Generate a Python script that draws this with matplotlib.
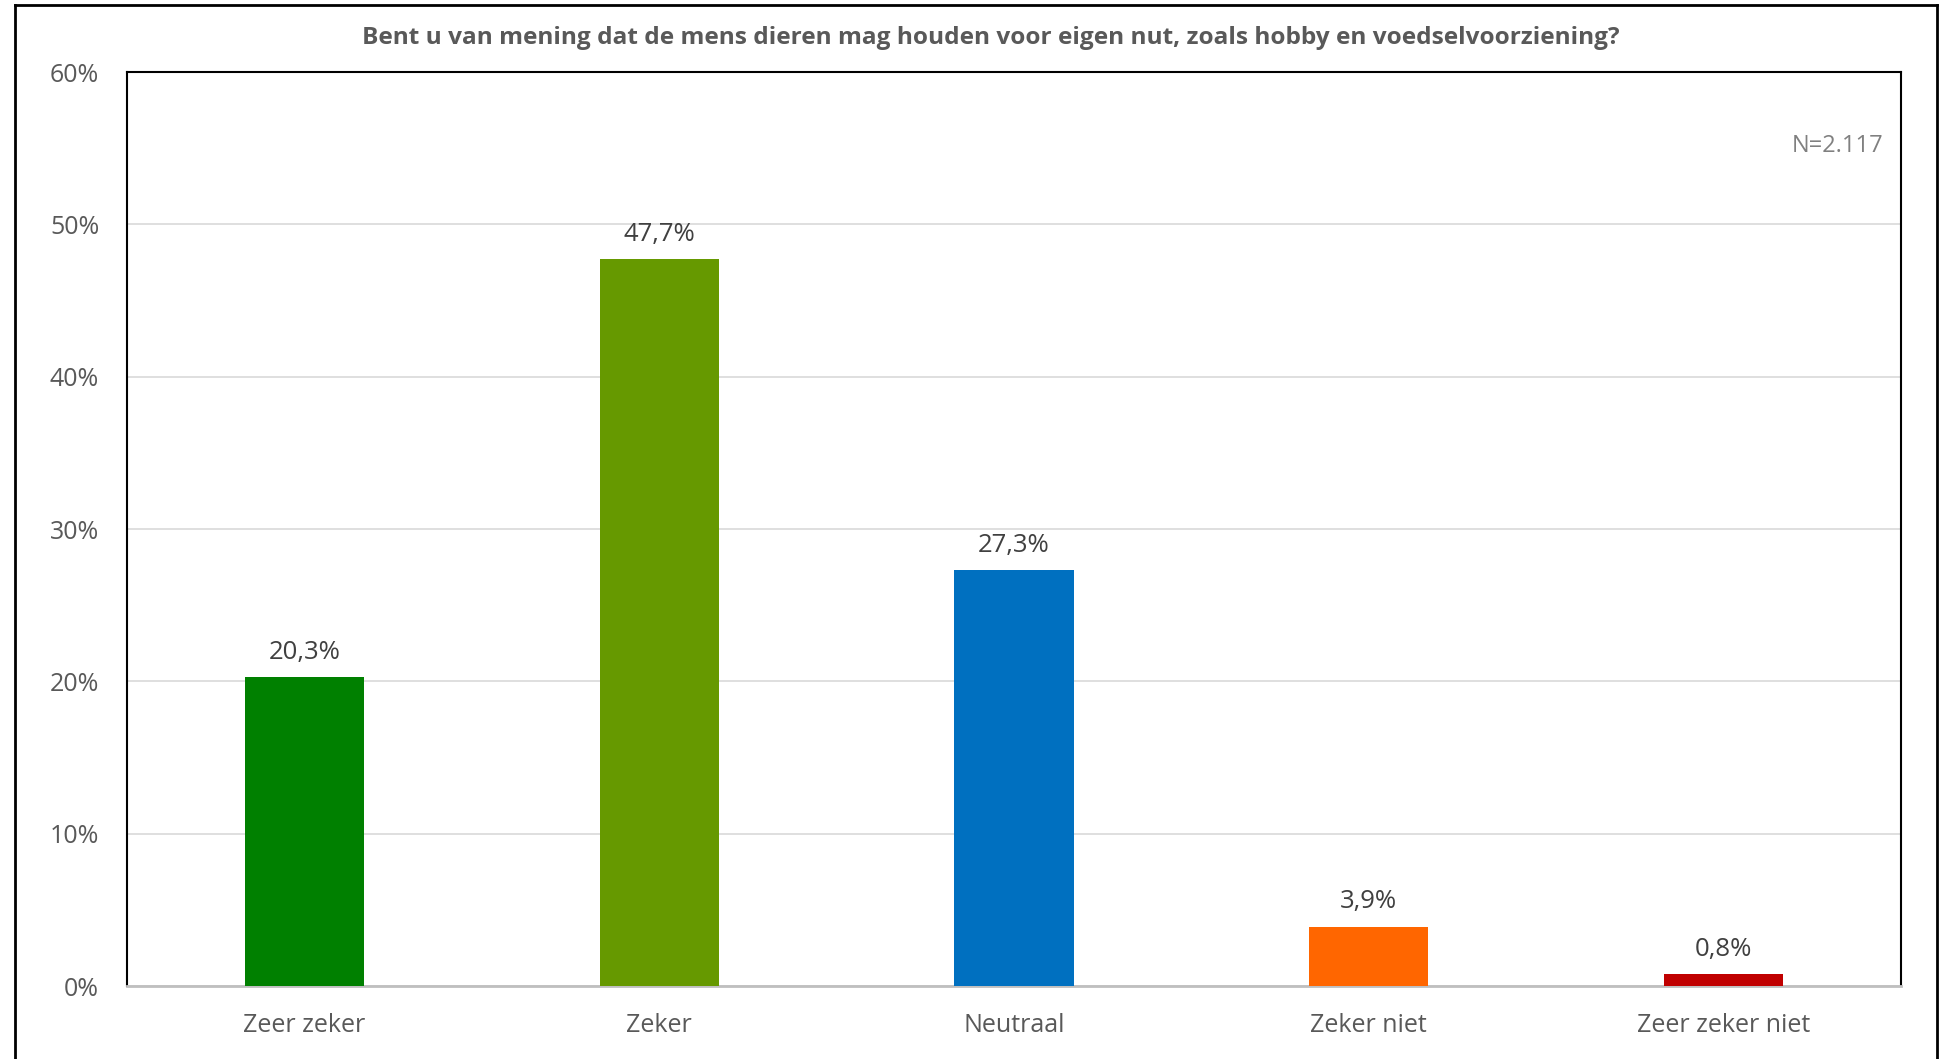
import matplotlib.pyplot as plt
from matplotlib.lines import Line2D
from matplotlib.ticker import MultipleLocator, FuncFormatter

categories = ['Zeer zeker', 'Zeker', 'Neutraal', 'Zeker niet', 'Zeer zeker niet']
values = [20.3, 47.7, 27.3, 3.9, 0.8]
colors = ['#008000', '#669900', '#0070C0', '#FF6600', '#C00000']
title = 'Bent u van mening dat de mens dieren mag houden voor eigen nut, zoals hobby en voedselvoorziening?'
n_label = 'N=2.117'

plt.rcParams['font.family'] = ['Open Sans', 'DejaVu Sans']

fig = plt.figure(figsize=(19.47, 10.59), dpi=100)
ax = fig.add_axes([0.0652, 0.0689, 0.9112, 0.8631])

x = range(len(categories))
bars = ax.bar(x, values, width=0.336, color=colors, zorder=3)

# labels boven de balken, met komma als decimaalteken
for b, v in zip(bars, values):
    ax.text(b.get_x() + b.get_width() / 2, v + 0.8, f'{v:.1f}%'.replace('.', ','),
            ha='center', va='bottom', fontsize=18.5, color='#404040')

ax.set_xlim(-0.5, len(categories) - 0.5)
ax.set_ylim(0, 60)
ax.yaxis.set_major_locator(MultipleLocator(10))
ax.yaxis.set_major_formatter(FuncFormatter(lambda v, p: f'{v:.0f}%'))
ax.set_xticks(list(x))
ax.set_xticklabels(categories)
ax.tick_params(axis='both', length=0, labelsize=18, labelcolor='#595959')
ax.tick_params(axis='x', pad=19.5)
ax.tick_params(axis='y', pad=20)
ax.grid(axis='y', color='#D9D9D9', linewidth=1.2, zorder=0)

for s in ['top', 'left', 'right']:
    ax.spines[s].set_color('black')
    ax.spines[s].set_linewidth(1.5)
ax.spines['bottom'].set_color('#BFBFBF')
ax.spines['bottom'].set_linewidth(2)

ax.text(0.99, 0.919, n_label, transform=ax.transAxes, ha='right', va='center',
        fontsize=17, color='#808080')

fig.text(0.509, 1 - 38 / 1059, title, ha='center', va='center',
         fontsize=17.6, fontweight='bold', color='#595959')

# buitenkader
W, H = 1947, 1059
fig.add_artist(Line2D([15 / W, 15 / W], [1 - 5 / H, 0], transform=fig.transFigure, color='black', lw=2))
fig.add_artist(Line2D([1937 / W, 1937 / W], [1 - 5 / H, 0], transform=fig.transFigure, color='black', lw=2))
fig.add_artist(Line2D([15 / W, 1937 / W], [1 - 5 / H, 1 - 5 / H], transform=fig.transFigure, color='black', lw=2))

fig.savefig('out.png', dpi=100)
